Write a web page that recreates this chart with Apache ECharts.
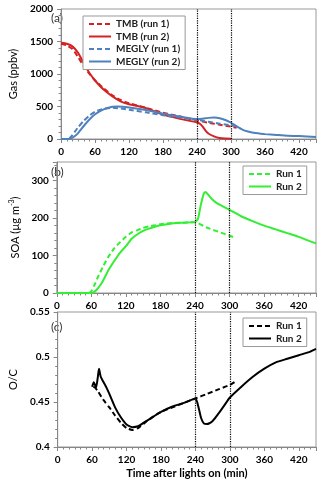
<!DOCTYPE html>
<html>
<head>
<meta charset="utf-8">
<script src="https://cdn.jsdelivr.net/npm/echarts@6/dist/echarts.min.js"></script>
<style>
  html, body { margin: 0; padding: 0; background: #fff; }
  #chart { width: 320px; height: 483px; }
</style>
</head>
<body>
<div id="chart"></div>
<script>
// x ticks (min after lights on)
const timeTicks = [0, 60, 120, 180, 240, 300, 360, 420];
const markTimes = [240, 300];

// (a) gas phase, ppbv
const tmb1T = [0, 10, 20, 30, 40, 50, 60, 75, 90, 105, 120, 150, 180, 210, 240, 260, 280, 300, 310];
const tmb1V = [1465, 1440, 1385, 1260, 1120, 1000, 900, 780, 675, 600, 550, 480, 405, 345, 285, 250, 220, 190, 172];
const tmb2T = [0, 10, 20, 30, 40, 50, 60, 75, 90, 105, 120, 150, 180, 210, 240, 245, 250, 255, 260, 270, 280, 290, 300];
const tmb2V = [1480, 1465, 1425, 1325, 1165, 1015, 900, 760, 660, 580, 535, 475, 375, 310, 255, 235, 190, 130, 85, 40, 15, 8, 5];
const megly1T = [0, 10, 15, 20, 25, 30, 40, 50, 60, 75, 90, 105, 120, 150, 180, 210, 240, 260, 280, 300, 310];
const megly1V = [0, 0, 15, 60, 120, 180, 280, 360, 420, 465, 480, 470, 450, 410, 365, 330, 295, 265, 235, 210, 200];
const megly2T = [0, 15, 20, 25, 30, 40, 50, 60, 75, 90, 100, 120, 150, 180, 210, 240, 250, 260, 270, 280, 290, 300, 310, 320, 330, 340, 350, 360, 380, 400, 420, 450];
const megly2V = [0, 0, 20, 50, 90, 200, 300, 380, 455, 495, 500, 485, 445, 390, 345, 305, 312, 325, 330, 320, 292, 250, 195, 145, 115, 95, 85, 75, 62, 50, 45, 30];

// (b) SOA, ug m-3
const soa1T = [0, 55, 60, 65, 70, 80, 90, 100, 110, 120, 130, 140, 150, 160, 170, 180, 200, 220, 240, 260, 280, 300, 310];
const soa1V = [0, 0, 5, 20, 38, 70, 98, 120, 136, 150, 162, 168, 174, 178, 181, 184, 187, 188, 189, 175, 164, 153, 147];
const soa2T = [0, 60, 65, 70, 75, 80, 90, 100, 110, 120, 130, 140, 150, 160, 170, 180, 200, 220, 240, 245, 250, 255, 258, 262, 270, 280, 290, 300, 320, 340, 360, 380, 400, 420, 440, 450];
const soa2V = [0, 0, 3, 10, 20, 32, 62, 86, 108, 125, 145, 157, 166, 172, 177, 181, 186, 188, 190, 198, 235, 265, 270, 264, 250, 238, 230, 222, 205, 192, 180, 170, 160, 150, 138, 133];

// (c) O/C ratio
const oc1T = [62, 65, 70, 80, 90, 100, 110, 120, 130, 140, 150, 160, 180, 200, 220, 240, 260, 280, 300, 310];
const oc1V = [0.467, 0.466, 0.462, 0.452, 0.444, 0.435, 0.427, 0.421, 0.419, 0.421, 0.426, 0.431, 0.439, 0.444, 0.449, 0.454, 0.459, 0.464, 0.469, 0.473];
const oc2T = [60, 63, 65, 67, 70, 72, 75, 80, 85, 90, 100, 110, 120, 130, 140, 150, 160, 180, 200, 220, 240, 245, 250, 255, 260, 270, 280, 290, 300, 320, 340, 360, 380, 400, 420, 440, 450];
const oc2V = [0.467, 0.472, 0.469, 0.466, 0.478, 0.487, 0.478, 0.472, 0.466, 0.459, 0.444, 0.433, 0.425, 0.422, 0.423, 0.427, 0.431, 0.439, 0.445, 0.449, 0.454, 0.445, 0.432, 0.426, 0.4255, 0.429, 0.437, 0.446, 0.455, 0.467, 0.478, 0.487, 0.494, 0.498, 0.502, 0.506, 0.509];

const zip = (t, v) => t.map((x, i) => [x, v[i]]);

const RED = '#D42222';
const BLUE = '#4F81BD';
const GREEN = '#33EE33';
const AXIS = '#868686';
const FONT = 'Lato';

const grids = [
    {left: 45, top: 9, width: 271, height: 130},
    {left: 45, top: 162, width: 271, height: 131},
    {left: 45, top: 312, width: 271, height: 135}
];

const axisCommon = {
    axisLine: {lineStyle: {color: AXIS, width: 1}},
    axisTick: {show: true, length: 4, lineStyle: {color: AXIS}},
    minorTick: {show: true, length: 2.5, lineStyle: {color: AXIS}},
    splitLine: {show: false},
    axisLabel: {color: '#000', fontFamily: FONT, fontWeight: 'bold', fontSize: 10, margin: 8}
};

const xAxes = grids.map((g, i) => ({
    ...axisCommon,
    type: 'value', gridIndex: i, min: 0, max: 450, interval: 60,
    minorTick: {...axisCommon.minorTick, splitNumber: 6},
    axisLabel: {...axisCommon.axisLabel, formatter: v => timeTicks.includes(v) ? String(v) : ''},
    name: i === 2 ? 'Time after lights on (min)' : '',
    nameLocation: 'middle', nameGap: 21,
    nameTextStyle: {color: '#000', fontFamily: FONT, fontSize: 11, fontWeight: 'bold'}
}));

const yName = {color: '#000', fontFamily: FONT, fontSize: 11};
const yAxes = [
    {
        ...axisCommon, type: 'value', gridIndex: 0, min: 0, max: 2000, interval: 500,
        minorTick: {...axisCommon.minorTick, splitNumber: 5},
        axisLabel: {...axisCommon.axisLabel, formatter: v => String(v)},
        name: 'Gas (ppbv)', nameLocation: 'middle', nameGap: 30, nameTextStyle: yName
    },
    {
        ...axisCommon, type: 'value', gridIndex: 1, min: 0, max: 350, interval: 100,
        minorTick: {...axisCommon.minorTick, splitNumber: 5},
        axisLabel: {...axisCommon.axisLabel, formatter: v => v % 100 === 0 ? String(v) : ''},
        name: '{a|SOA (µg m}{s|-3}{a|)}', nameLocation: 'middle', nameGap: 30,
        nameTextStyle: {
            ...yName,
            rich: {
                a: {fontFamily: FONT, fontSize: 11, color: '#000', lineHeight: 14},
                s: {fontFamily: FONT, fontSize: 7, color: '#000', verticalAlign: 'top', lineHeight: 14}
            }
        }
    },
    {
        ...axisCommon, type: 'value', gridIndex: 2, min: 0.4, max: 0.55, interval: 0.05,
        minorTick: {...axisCommon.minorTick, splitNumber: 5},
        axisLabel: {...axisCommon.axisLabel, formatter: v => String(+v.toFixed(2))},
        name: 'O/C', nameLocation: 'middle', nameGap: 30, nameTextStyle: yName
    }
];

const vLines = {
    silent: true,
    symbol: ['none', 'none'],
    label: {show: false},
    lineStyle: {color: '#000', type: 'dotted', width: 1.2},
    data: markTimes.map(t => ({xAxis: t}))
};

const line = (name, idx, data, color, dashed, extra) => ({
    name, type: 'line', xAxisIndex: idx, yAxisIndex: idx,
    data, symbol: 'none', smooth: 0.2,
    lineStyle: {color, width: 2, type: dashed ? [5, 3] : 'solid'},
    itemStyle: {color},
    ...extra
});

const series = [
    line('TMB (run 1)', 0, zip(tmb1T, tmb1V), RED, true, {markLine: vLines}),
    line('TMB (run 2)', 0, zip(tmb2T, tmb2V), RED, false),
    line('MEGLY (run 1)', 0, zip(megly1T, megly1V), BLUE, true),
    line('MEGLY (run 2)', 0, zip(megly2T, megly2V), BLUE, false),
    line('b1', 1, zip(soa1T, soa1V), GREEN, true, {markLine: vLines}),
    line('b2', 1, zip(soa2T, soa2V), GREEN, false),
    line('c1', 2, zip(oc1T, oc1V), '#000', true, {markLine: vLines}),
    line('c2', 2, zip(oc2T, oc2V), '#000', false)
];

// panels b and c share "Run 1"/"Run 2", so series get unique names
const runLabel = {b1: 'Run 1', b2: 'Run 2', c1: 'Run 1', c2: 'Run 2'};
const legendCommon = {
    orient: 'vertical', backgroundColor: '#fff',
    borderColor: '#999', borderWidth: 1, borderRadius: 0,
    padding: [3, 5], itemGap: 2.5, itemHeight: 10, itemWidth: 22,
    itemStyle: {opacity: 0},
    textStyle: {color: '#222', fontFamily: FONT, fontSize: 10, fontWeight: 'bold'},
    formatter: n => runLabel[n] || n
};

const option = {
    animation: false,
    backgroundColor: '#fff',
    grid: grids.map(g => ({...g, show: true, borderColor: '#999', borderWidth: 1, backgroundColor: 'transparent'})),
    xAxis: xAxes,
    yAxis: yAxes,
    legend: [
        {...legendCommon, left: 83, top: 16, data: ['TMB (run 1)', 'TMB (run 2)', 'MEGLY (run 1)', 'MEGLY (run 2)']},
        {...legendCommon, left: 243, top: 166, data: ['b1', 'b2']},
        {...legendCommon, left: 243, top: 318, data: ['c1', 'c2']}
    ],
    graphic: [
        {type: 'text', left: 51, top: 12, style: {text: '(a)', fontFamily: FONT, fontSize: 12, fill: '#333'}},
        {type: 'text', left: 51, top: 166, style: {text: '(b)', fontFamily: FONT, fontSize: 12, fill: '#333'}},
        {type: 'text', left: 51, top: 321, style: {text: '(c)', fontFamily: FONT, fontSize: 12, fill: '#333'}}
    ],
    series: series
};

const chart = echarts.init(document.getElementById('chart'), null, {renderer: 'canvas'});
chart.setOption(option);
</script>
</body>
</html>
